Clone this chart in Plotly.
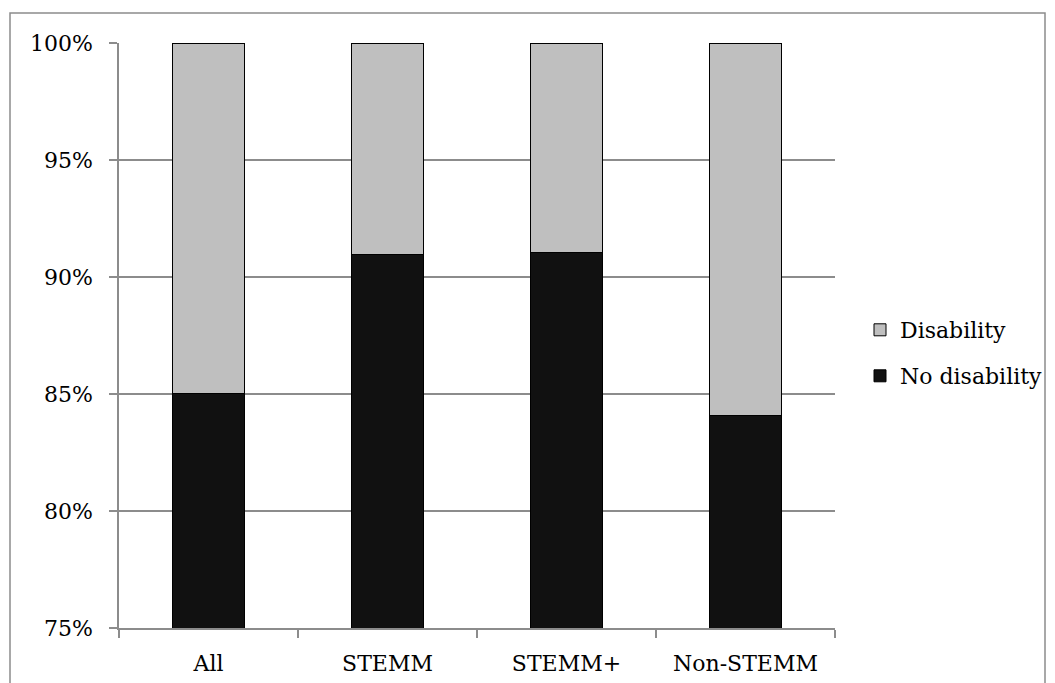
import plotly.graph_objects as go

categories = ["All", "STEMM", "STEMM+", "Non-STEMM"]
no_disability = [85.02, 90.95, 91.05, 84.09]
disability = [round(100 - v, 2) for v in no_disability]

FONT = "DejaVu Serif"
GRID = "#8c8c8c"

# page body has an 8px margin; compensate so the plot lands where the reference does
OFF = 8
PL, PR, PT, PB = 119, 835, 43, 628  # plot area in page pixels
W, H = 1055 - OFF, 683 - OFF

fig = go.Figure()
fig.add_trace(go.Bar(
    x=categories, y=no_disability, name="No disability", legend="legend2",
    marker=dict(color="#111111", line=dict(color="#000000", width=1)),
    width=0.4,
))
fig.add_trace(go.Bar(
    x=categories, y=disability, name="Disability", legend="legend",
    marker=dict(color="#bfbfbf", line=dict(color="#000000", width=1)),
    width=0.4,
))

pw, ph = PR - PL, PB - PT
leg_common = dict(
    xanchor="left", yanchor="middle", font=dict(family=FONT, size=22),
    itemwidth=30, bgcolor="rgba(0,0,0,0)",
)
fig.update_layout(
    barmode="stack",
    width=W, height=H,
    margin=dict(l=PL - OFF, r=W - (PR - OFF), t=PT - OFF, b=H - (PB - OFF),
                autoexpand=False),
    plot_bgcolor="white", paper_bgcolor="white",
    font=dict(family=FONT, size=22, color="#000000"),
    showlegend=True,
    legend=dict(x=(860 - PL) / pw, y=(PB - 330) / ph, **leg_common),
    legend2=dict(x=(860 - PL) / pw, y=(PB - 376) / ph, **leg_common),
    xaxis=dict(
        type="category", tickson="boundaries", ticks="outside", ticklen=8,
        tickcolor=GRID, tickwidth=1.5, showline=True, linecolor=GRID,
        linewidth=1.5, showgrid=False, ticklabelstandoff=15, automargin=False,
        tickfont=dict(family=FONT, size=22),
    ),
    yaxis=dict(
        range=[75, 100], dtick=5, ticksuffix="%", ticks="outside", ticklen=8,
        tickcolor=GRID, tickwidth=1.5, showline=True, linecolor=GRID,
        linewidth=1.5, showgrid=True, gridcolor=GRID, gridwidth=1.5,
        zeroline=False, ticklabelstandoff=12, automargin=False,
        tickfont=dict(family=FONT, size=22),
    ),
)

# outer chart border
fig.add_shape(
    type="rect", xref="paper", yref="paper",
    x0=(10 - PL) / pw, x1=(1045 - PL) / pw,
    y0=(PB - 700) / ph, y1=(PB - 13) / ph,
    line=dict(color="#8c8c8c", width=1.5), fillcolor="rgba(0,0,0,0)",
    layer="below",
)

fig.write_html("out.html")
